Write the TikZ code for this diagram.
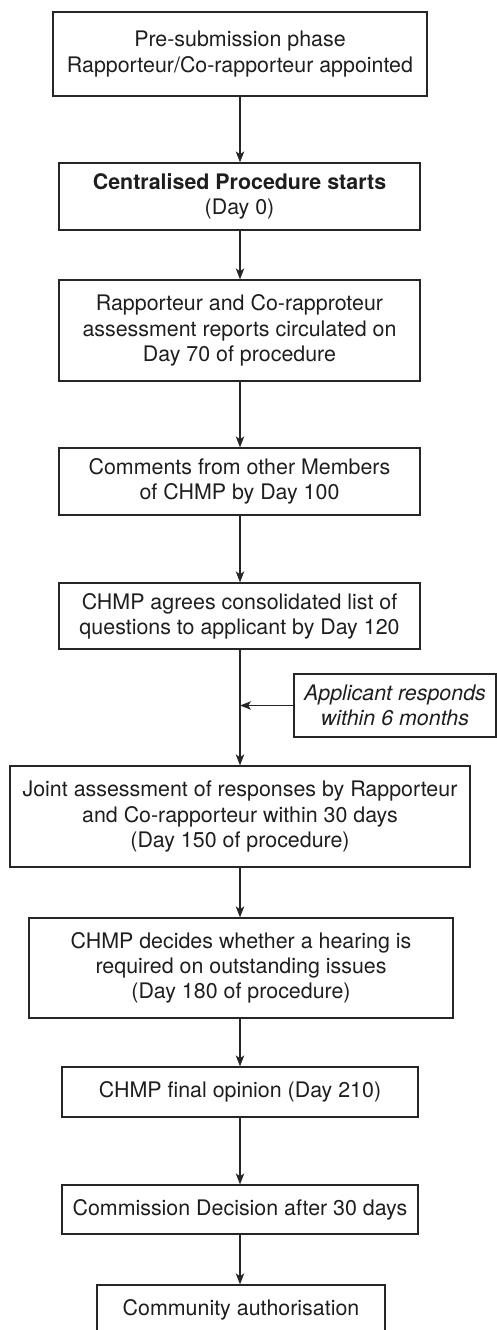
\documentclass[tikz,border=0pt]{standalone}
\usepackage{fontspec}
\setmainfont{TeX Gyre Heros}
\usepackage{tikz}
\usetikzlibrary{arrows.meta,calc,positioning}
\definecolor{InkGray}{RGB}{38,38,38}
\definecolor{TextGray}{RGB}{30,30,30}

\begin{document}
\begin{tikzpicture}[x=0.5pt,y=-0.5pt,>={Stealth[length=5.5pt,width=4.2pt,inset=1.4pt]},
    stepbox/.style={draw=InkGray,line width=0.6pt,align=center,inner sep=0pt,text=TextGray,
      font=\fontsize{10.7}{12.6}\selectfont},
    arr/.style={->,draw=InkGray,line width=0.6pt}]
      \useasboundingbox (0,0) rectangle (497,1330);
      \node[stepbox,minimum width=187pt,minimum height=42pt] (pre) at (240,54)
        {Pre-submission phase\\Rapporteur/Co-rapporteur appointed};
      \node[stepbox,minimum width=180.5pt,minimum height=33.5pt] (start) at (239.5,196.5)
        {\textbf{Centralised Procedure starts}\\(Day 0)};
      \node[stepbox,minimum width=180.5pt,minimum height=50.5pt] (day70) at (239.5,330.5)
        {Rapporteur and Co-rapproteur\\assessment reports circulated on\\Day 70 of procedure};
      \node[stepbox,minimum width=180.5pt,minimum height=33.5pt] (day100) at (239.5,481.5)
        {Comments from other Members\\of CHMP by Day 100};
      \node[stepbox,minimum width=180.5pt,minimum height=33pt] (day120) at (239.5,616)
        {CHMP agrees consolidated list of\\questions to applicant by Day 120};
      \node[stepbox,minimum width=101pt,minimum height=31.5pt,font=\fontsize{10.7}{12.6}\selectfont\itshape] (reply) at (395,705.5)
        {Applicant responds\\within 6 months};
      \node[stepbox,minimum width=230pt,minimum height=50.5pt] (day150) at (240,816.5)
        {Joint assessment of responses by Rapporteur\\and Co-rapporteur within 30 days\\(Day 150 of procedure)};
      \node[stepbox,minimum width=212pt,minimum height=50pt] (day180) at (241,968)
        {CHMP decides whether a hearing is\\required on outstanding issues\\(Day 180 of procedure)};
      \node[stepbox,minimum width=178pt,minimum height=25pt] (day210) at (240,1092)
        {CHMP final opinion (Day 210)};
      \node[stepbox,minimum width=178pt,minimum height=24.5pt] (decision) at (240,1209.5)
        {Commission Decision after 30 days};
      \node[stepbox,minimum width=144pt,minimum height=25pt] (auth) at (241,1310)
        {Community authorisation};
      \draw[arr] (pre.south) -- (pre.south |- start.north);
      \draw[arr] (pre.south |- start.south) -- (pre.south |- day70.north);
      \draw[arr] (pre.south |- day70.south) -- (pre.south |- day100.north);
      \draw[arr] (pre.south |- day100.south) -- (pre.south |- day120.north);
      \draw[arr] (pre.south |- day120.south) -- (pre.south |- day150.north);
      \draw[arr] (reply.west) -- (reply.west -| pre.south);
      \draw[arr] (day150.south) -- (day150.south |- day180.north);
      \draw[arr] (day150.south |- day180.south) -- (day150.south |- day210.north);
      \draw[arr] (day150.south |- day210.south) -- (day150.south |- decision.north);
      \draw[arr] (day150.south |- decision.south) -- (day150.south |- auth.north);
    \end{tikzpicture}
\end{document}
